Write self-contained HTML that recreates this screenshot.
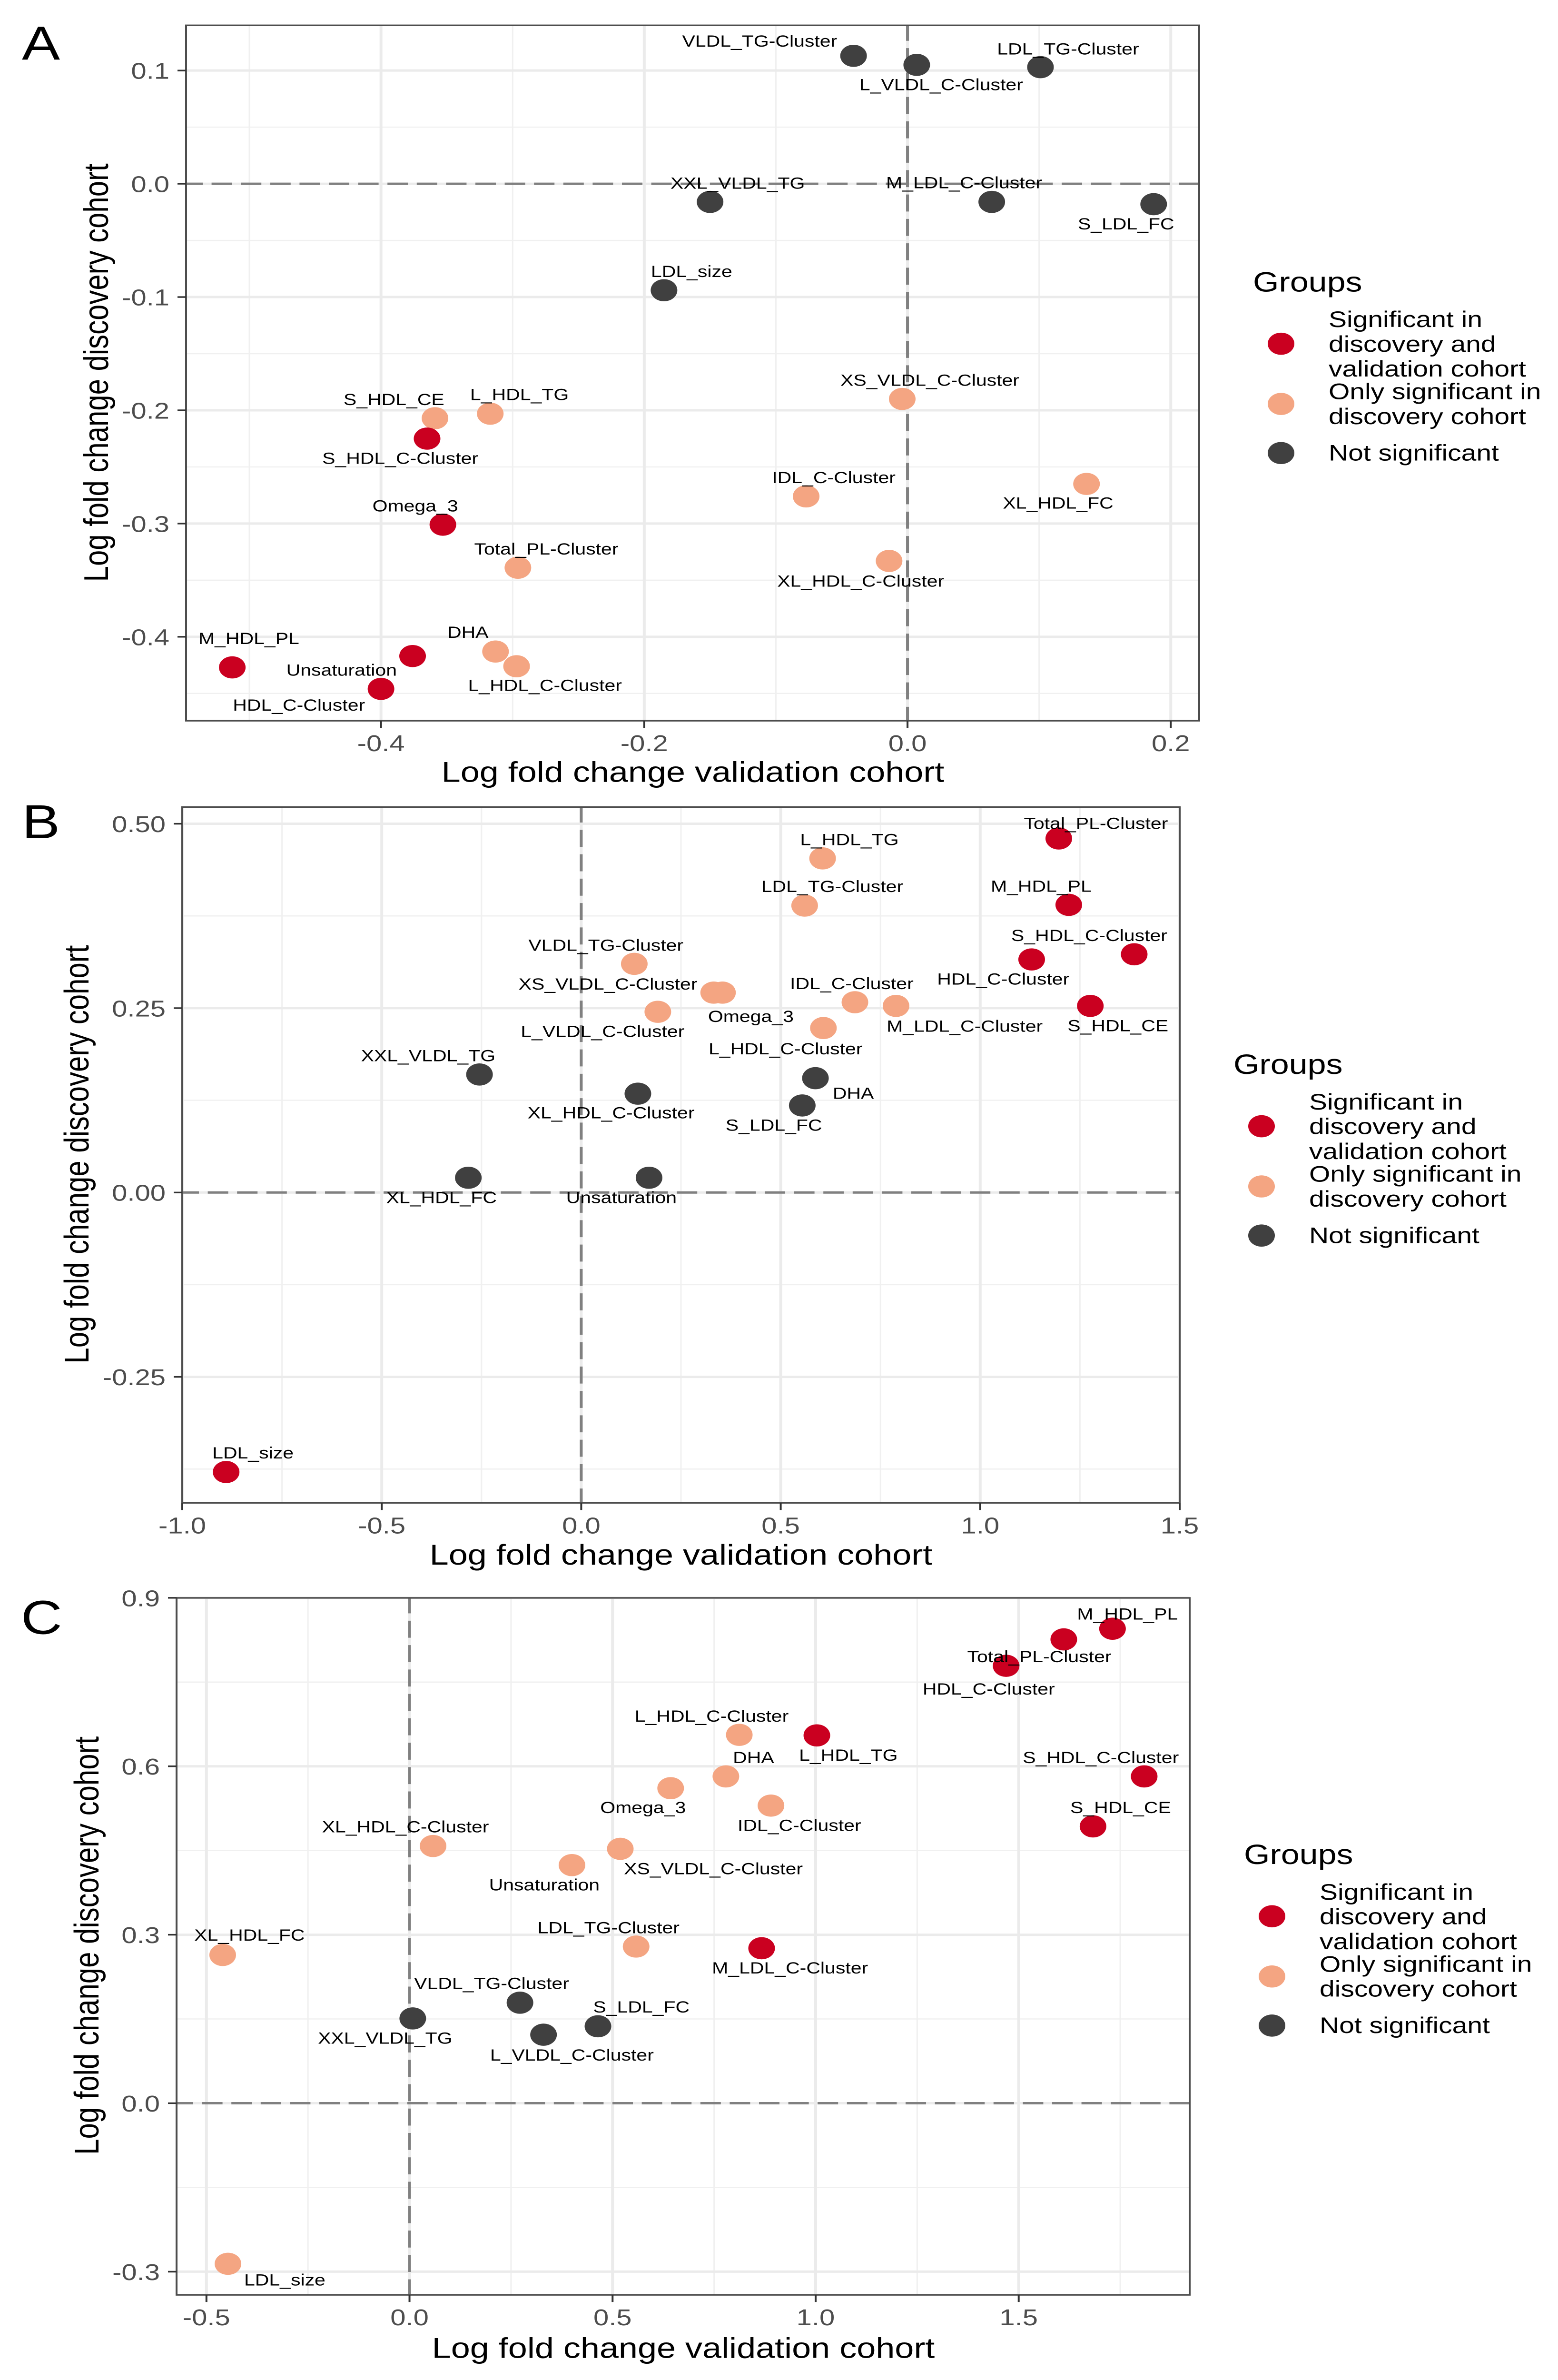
<!DOCTYPE html>
<html lang="en">
<head>
<meta charset="utf-8">
<title>Log fold change: discovery vs validation cohort</title>
<style>
html,body{margin:0;padding:0;background:#fff;width:100%;height:100%;overflow:hidden;}
svg{display:block;position:absolute;left:0;top:0;width:100vw;height:100vh;overflow:hidden;font-family:"Liberation Sans",Arial,sans-serif;}
</style>
</head>
<body>
<svg id="figure" xmlns="http://www.w3.org/2000/svg" viewBox="0 0 3274 6010" preserveAspectRatio="none"></svg>
<script>
// ---------- shared data ----------
const groupColors = ['#ca0020', '#f4a582', '#404040'];
const groupNames = ['significant-both', 'significant-discovery', 'not-significant'];
const legendLines = [
  ['Significant in', 'discovery and', 'validation cohort'],
  ['Only significant in', 'discovery cohort'],
  ['Not significant']
];

// ---------- panel A data ----------
const panelANames = ['VLDL_TG-Cluster','L_VLDL_C-Cluster','LDL_TG-Cluster','XXL_VLDL_TG','M_LDL_C-Cluster','S_LDL_FC','LDL_size','XS_VLDL_C-Cluster','S_HDL_CE','L_HDL_TG','S_HDL_C-Cluster','IDL_C-Cluster','XL_HDL_FC','Omega_3','Total_PL-Cluster','XL_HDL_C-Cluster','DHA','L_HDL_C-Cluster','Unsaturation','M_HDL_PL','HDL_C-Cluster'];
const panelAValidation = [-0.041,0.007,0.101,-0.150,0.064,0.187,-0.185,-0.004,-0.359,-0.317,-0.365,-0.077,0.136,-0.353,-0.296,-0.014,-0.313,-0.297,-0.376,-0.513,-0.400];
const panelADiscovery = [0.113,0.105,0.103,-0.016,-0.016,-0.018,-0.094,-0.190,-0.207,-0.203,-0.225,-0.276,-0.265,-0.301,-0.339,-0.333,-0.413,-0.426,-0.417,-0.427,-0.446];
const panelAGroups = [2,2,2,2,2,2,2,1,1,1,0,1,1,0,1,1,1,1,0,0,0];
const panelALabelNudges = [[-119,-29],[31,39],[35,-36],[35,-37],[-35,-38],[-35,39],[35,-37],[35,-37],[-52,-37],[37,-38],[-34,39],[35,-37],[-36,38],[-35,-37],[36,-37],[-36,40],[-35,-38],[36,38],[-90,28],[21,-57],[-104,32]];
const panelAXTicks = [-0.4,-0.2,0,0.2];
const panelAXTickLabels = ['-0.4','-0.2','0.0','0.2'];
const panelAXMinor = [-0.5,-0.3,-0.1,0.1];
const panelAYTicks = [0.1,0,-0.1,-0.2,-0.3,-0.4];
const panelAYTickLabels = ['0.1','0.0','-0.1','-0.2','-0.3','-0.4'];
const panelAYMinor = [0.05,-0.05,-0.15,-0.25,-0.35,-0.45];

// ---------- panel B data ----------
const panelBNames = ['Total_PL-Cluster','L_HDL_TG','LDL_TG-Cluster','M_HDL_PL','S_HDL_C-Cluster','HDL_C-Cluster','VLDL_TG-Cluster','XS_VLDL_C-Cluster','Omega_3','IDL_C-Cluster','M_LDL_C-Cluster','S_HDL_CE','L_VLDL_C-Cluster','L_HDL_C-Cluster','XXL_VLDL_TG','DHA','XL_HDL_C-Cluster','S_LDL_FC','XL_HDL_FC','Unsaturation','LDL_size'];
const panelBValidation = [1.197,0.605,0.560,1.222,1.386,1.129,0.133,0.332,0.354,0.686,0.789,1.276,0.192,0.607,-0.255,0.587,0.142,0.554,-0.283,0.170,-0.890];
const panelBDiscovery = [0.480,0.453,0.389,0.390,0.323,0.316,0.310,0.271,0.271,0.258,0.253,0.253,0.245,0.223,0.160,0.155,0.134,0.118,0.020,0.020,-0.379];
const panelBGroups = [0,1,1,0,0,0,1,1,1,1,1,0,1,1,2,2,2,2,2,2,0];
const panelBLabelNudges = [[47,-30],[34,-37],[35,-38],[-35,-37],[-57,-37],[-36,39],[-36,-37],[-134,-17],[36,47],[-4,-37],[87,40],[35,39],[-70,39],[-48,41],[-65,-37],[48,30],[-34,38],[-36,39],[-34,39],[-35,39],[34,-38]];
const panelBXTicks = [-1,-0.5,0,0.5,1,1.5];
const panelBXTickLabels = ['-1.0','-0.5','0.0','0.5','1.0','1.5'];
const panelBXMinor = [-0.75,-0.25,0.25,0.75,1.25];
const panelBYTicks = [0.5,0.25,0,-0.25];
const panelBYTickLabels = ['0.50','0.25','0.00','-0.25'];
const panelBYMinor = [0.375,0.125,-0.125,-0.375];

// ---------- panel C data ----------
const panelCNames = ['M_HDL_PL','Total_PL-Cluster','HDL_C-Cluster','L_HDL_C-Cluster','L_HDL_TG','DHA','S_HDL_C-Cluster','Omega_3','IDL_C-Cluster','S_HDL_CE','XL_HDL_C-Cluster','XS_VLDL_C-Cluster','Unsaturation','LDL_TG-Cluster','M_LDL_C-Cluster','XL_HDL_FC','VLDL_TG-Cluster','XXL_VLDL_TG','S_LDL_FC','L_VLDL_C-Cluster','LDL_size'];
const panelCValidation = [1.731,1.611,1.469,0.812,1.003,0.779,1.809,0.643,0.890,1.683,0.058,0.519,0.400,0.558,0.867,-0.460,0.272,0.008,0.464,0.330,-0.447];
const panelCDiscovery = [0.845,0.826,0.779,0.656,0.655,0.582,0.582,0.561,0.530,0.493,0.458,0.453,0.424,0.279,0.276,0.264,0.179,0.151,0.137,0.122,-0.286];
const panelCGroups = [0,0,0,1,0,1,0,1,1,0,1,1,1,1,0,1,2,2,2,2,1];
const panelCLabelNudges = [[19,-29],[-31,34],[-22,46],[-35,-37],[40,39],[35,-37],[-55,-37],[-35,38],[36,39],[35,-37],[-35,-38],[118,39],[-35,39],[-35,-37],[36,39],[34,-39],[-36,-38],[-35,39],[55,-38],[36,40],[72,32]];
const panelCXTicks = [-0.5,0,0.5,1,1.5];
const panelCXTickLabels = ['-0.5','0.0','0.5','1.0','1.5'];
const panelCXMinor = [-0.25,0.25,0.75,1.25,1.75];
const panelCYTicks = [0.9,0.6,0.3,0,-0.3];
const panelCYTickLabels = ['0.9','0.6','0.3','0.0','-0.3'];
const panelCYMinor = [0.75,0.45,0.15,-0.15];

// ---------- drawing ----------
const svgNS = 'http://www.w3.org/2000/svg';
const root = document.getElementById('figure');
const NUDGE_X = 1.658;

function make(tag, parent, attrs, text) {
  const el = document.createElementNS(svgNS, tag);
  for (const k in attrs) el.setAttribute(k, attrs[k]);
  if (text !== undefined) el.textContent = text;
  parent.appendChild(el);
  return el;
}
function slug(s) {
  return s.toLowerCase().replace(/[^a-z0-9]+/g, '-');
}

function drawPanel(p) {
  const g = make('g', root, {});
  
  

  const sx = v => p.left + (v - p.xLo) / (p.xHi - p.xLo) * (p.right - p.left);
  const sy = v => p.top + (p.yHi - v) / (p.yHi - p.yLo) * (p.bottom - p.top);

  // minor grid
  p.xMinor.forEach(v => {
    const l = make('line', g, {x1:sx(v), x2:sx(v), y1:p.top, y2:p.bottom, stroke:'#f0f0f0', 'stroke-width':3});
    
    
  });
  p.yMinor.forEach(v => {
    const l = make('line', g, {x1:p.left, x2:p.right, y1:sy(v), y2:sy(v), stroke:'#f0f0f0', 'stroke-width':3});
    
    
  });
  // major grid
  p.xTicks.forEach(v => {
    const l = make('line', g, {x1:sx(v), x2:sx(v), y1:p.top, y2:p.bottom, stroke:'#ebebeb', 'stroke-width':6});
    
    
  });
  p.yTicks.forEach(v => {
    const l = make('line', g, {x1:p.left, x2:p.right, y1:sy(v), y2:sy(v), stroke:'#ebebeb', 'stroke-width':6});
    
    
  });
  // reference lines
  const vRef = make('line', g, {x1:sx(0), x2:sx(0), y1:p.top, y2:p.bottom, stroke:'#808080', 'stroke-width':6, 'stroke-dasharray':'43 18.6', 'stroke-dashoffset':p.dashV});
  
  
  const hRef = make('line', g, {x1:p.left, x2:p.right, y1:sy(0), y2:sy(0), stroke:'#808080', 'stroke-width':6, 'stroke-dasharray':'43 18.6', 'stroke-dashoffset':p.dashH});
  
  

  // points
  p.names.forEach((name, i) => {
    const c = make('circle', g, {cx:sx(p.xVals[i]), cy:sy(p.yVals[i]), r:28, fill:groupColors[p.groups[i]]});
    
    
  });
  // point labels
  p.names.forEach((name, i) => {
    const n = p.nudges[i];
    const t = make('text', g, {x:sx(p.xVals[i]) + n[0] * NUDGE_X, y:sy(p.yVals[i]) + n[1] * p.nudgeY + 14, 'font-size':41, fill:'#000', 'text-anchor':'middle'}, name);
    
    
  });

  // panel border
  const border = make('rect', g, {x:p.left, y:p.top, width:p.right - p.left, height:p.bottom - p.top, fill:'none', stroke:'#4d4d4d', 'stroke-width':4});
  
  

  // x axis ticks
  p.xTicks.forEach((v, i) => {
    const tk = make('line', g, {x1:sx(v), x2:sx(v), y1:p.bottom, y2:p.bottom + 18, stroke:'#333', 'stroke-width':4});
    
    
    const t = make('text', g, {x:sx(v), y:p.bottom + 77, 'font-size':58, fill:'#4d4d4d', 'text-anchor':'middle'}, p.xTickLabels[i]);
    
    
  });
  // y axis ticks
  p.yTicks.forEach((v, i) => {
    const tk = make('line', g, {x1:p.left - 18, x2:p.left, y1:sy(v), y2:sy(v), stroke:'#333', 'stroke-width':4});
    
    
    const t = make('text', g, {x:p.left - 35, y:sy(v) + 21, 'font-size':58, fill:'#4d4d4d', 'text-anchor':'end'}, p.yTickLabels[i]);
    
    
  });

  // axis titles
  const xt = make('text', g, {x:p.xTitleX, y:p.xTitleY, 'font-size':72, fill:'#000', 'text-anchor':'middle'}, 'Log fold change validation cohort');
  
  
  const yt = make('text', g, {x:0, y:0, transform:'translate(' + p.yTitleX + ',' + p.yTitleY + ') rotate(-90)', 'font-size':72, fill:'#000', 'text-anchor':'middle'}, 'Log fold change discovery cohort');
  
  

  // panel letter
  const letter = make('text', g, {x:p.letterX, y:p.letterY, 'font-size':120, fill:'#000'}, p.id);
  
  

  // legend
  const lg = make('g', g, {transform:'translate(' + p.legendDx + ',' + p.legendDy + ')'});
  
  
  const title = make('text', lg, {x:2633, y:736, 'font-size':70, fill:'#000'}, 'Groups');
  
  
  const keyY = [868, 1020, 1144];
  const lineY = [[826, 888, 951], [1008, 1071], [1163]];
  groupColors.forEach((col, i) => {
    const k = make('circle', lg, {cx:2692, cy:keyY[i], r:28, fill:col});
    
    
    legendLines[i].forEach((line, j) => {
      const t = make('text', lg, {x:2792, y:lineY[i][j], 'font-size':57, fill:'#000'}, line);
      
      
    });
  });
}

drawPanel({
  id:'A', left:391, right:2520, top:64, bottom:1820,
  xLo:-0.5481, xHi:0.2216, yLo:-0.4741, yHi:0.1399, nudgeY:1.2755,
  names:panelANames, xVals:panelAValidation, yVals:panelADiscovery, groups:panelAGroups, nudges:panelALabelNudges,
  xTicks:panelAXTicks, xTickLabels:panelAXTickLabels, xMinor:panelAXMinor,
  yTicks:panelAYTicks, yTickLabels:panelAYTickLabels, yMinor:panelAYMinor,
  dashV:4, dashH:8,
  xTitleX:1456, xTitleY:1974, yTitleX:227, yTitleY:941,
  letterX:46, letterY:150, legendDx:0, legendDy:0
});
drawPanel({
  id:'B', left:383, right:2479, top:2038, bottom:3795,
  xLo:-1, xHi:1.5, yLo:-0.4208, yHi:0.5226, nudgeY:1.2755,
  names:panelBNames, xVals:panelBValidation, yVals:panelBDiscovery, groups:panelBGroups, nudges:panelBLabelNudges,
  xTicks:panelBXTicks, xTickLabels:panelBXTickLabels, xMinor:panelBXMinor,
  yTicks:panelBYTicks, yTickLabels:panelBYTickLabels, yMinor:panelBYMinor,
  dashV:4, dashH:8,
  xTitleX:1431, xTitleY:3951, yTitleX:186, yTitleY:2915,
  letterX:46, letterY:2117, legendDx:-41, legendDy:1976
});
drawPanel({
  id:'C', left:371, right:2500, top:4035, bottom:5795,
  xLo:-0.5736, xHi:1.921, yLo:-0.3413, yHi:0.8999, nudgeY:1.2819,
  names:panelCNames, xVals:panelCValidation, yVals:panelCDiscovery, groups:panelCGroups, nudges:panelCLabelNudges,
  xTicks:panelCXTicks, xTickLabels:panelCXTickLabels, xMinor:panelCXMinor,
  yTicks:panelCYTicks, yTickLabels:panelCYTickLabels, yMinor:panelCYMinor,
  dashV:4, dashH:8,
  xTitleX:1436, xTitleY:5954, yTitleX:207, yTitleY:4913,
  letterX:44, letterY:4126, legendDx:-19, legendDy:3971
});
</script>
</body>
</html>
